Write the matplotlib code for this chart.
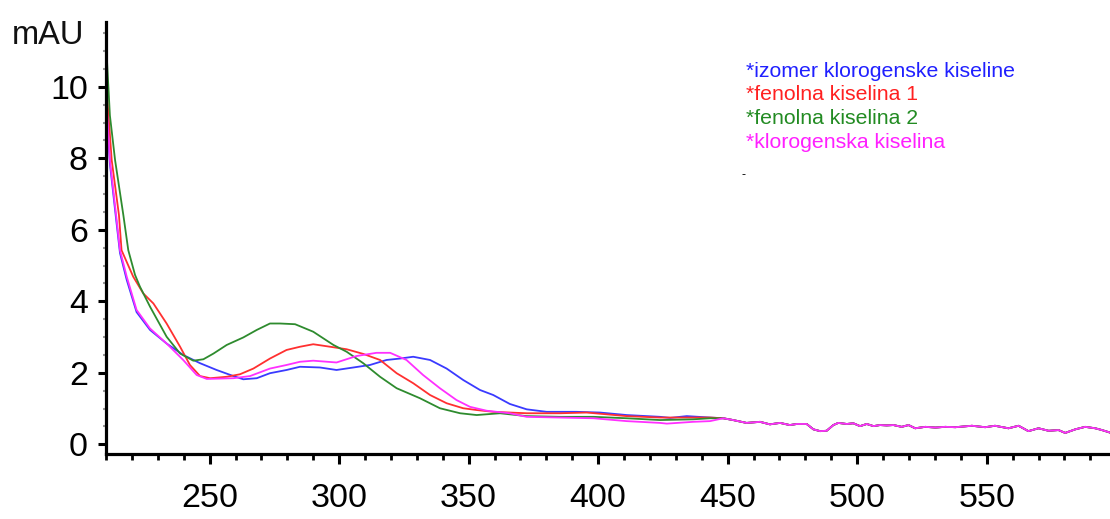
import matplotlib
matplotlib.use("Agg")
import matplotlib.pyplot as plt
from matplotlib.ticker import MultipleLocator
import numpy as np

plt.rcParams['font.family'] = ['Liberation Sans', 'DejaVu Sans']

# ---- data ----
labels = ["*izomer klorogenske kiseline", "*fenolna kiselina 1",
          "*fenolna kiselina 2", "*klorogenska kiselina"]

blue_x = [210, 211.5, 213.9, 215.4, 218, 221.8, 227, 233.4, 239.8, 246.3, 252.7, 259.2,
          263, 268.2, 273.3, 279.7, 284.9, 292.6, 299, 305.5, 311.9, 318.3, 323.5, 328.6,
          335.1, 341.5, 347.9, 354.4, 359.5, 365.9, 372.4, 380.1, 391.7, 400.7, 411,
          423.9, 427.8, 434.2, 443.2]
blue_y = [9.7, 7.85, 6.3, 5.35, 4.6, 3.7, 3.2, 2.82, 2.50, 2.27, 2.08, 1.91,
          1.82, 1.85, 1.99, 2.08, 2.17, 2.15, 2.08, 2.15, 2.22, 2.36, 2.40, 2.45,
          2.36, 2.12, 1.80, 1.52, 1.38, 1.13, 0.98, 0.91, 0.91, 0.89, 0.82,
          0.77, 0.74, 0.79, 0.75]

red_x = [210, 212.2, 215, 216, 220.5, 224.4, 228.3, 233.4, 238.6, 242.4, 246.3, 250.2,
         256.6, 261.7, 266.9, 273.3, 279.7, 284.9, 290, 296.5, 302.9, 309.3, 315.8,
         322.2, 328.6, 335.1, 341.5, 347.9, 353.1, 359.5, 372.4, 385.3, 395.6, 411,
         423.9, 443.2]
red_y = [10.2, 7.95, 6.41, 5.43, 4.69, 4.22, 3.94, 3.38, 2.73, 2.22, 1.91, 1.85,
         1.89, 1.96, 2.12, 2.40, 2.64, 2.73, 2.80, 2.73, 2.66, 2.53, 2.36,
         1.99, 1.71, 1.38, 1.15, 1.01, 0.96, 0.91, 0.87, 0.87, 0.89, 0.79,
         0.75, 0.75]

green_x = [210, 211.5, 213.5, 216.7, 218.6, 221.2, 223.1, 227, 233.4, 238.6, 243.7,
           247.6, 251.5, 256.6, 263, 268.2, 273.3, 277.2, 283, 290, 297.8, 302.9,
           309.3, 315.8, 322.2, 331.2, 338.9, 346.7, 353.1, 362.1, 372.4, 385.3,
           398.2, 411, 423.9, 436.6, 443.2]
green_y = [11.25, 9.2, 7.95, 6.41, 5.43, 4.74, 4.41, 3.85, 3.01, 2.54, 2.34,
           2.38, 2.54, 2.78, 2.99, 3.20, 3.38, 3.38, 3.36, 3.15, 2.78, 2.59,
           2.27, 1.89, 1.57, 1.29, 1.01, 0.87, 0.82, 0.87, 0.79, 0.77,
           0.77, 0.73, 0.68, 0.70, 0.73]

magenta_x = [210, 211.5, 213.9, 215.4, 218, 221.8, 227, 233.4, 239.8, 245, 248.9,
             259.2, 265.6, 273.3, 279.7, 284.9, 290, 299, 306.7, 314.4, 319.7, 326,
             332.4, 338.9, 345.3, 350.5, 357, 365.9, 372.4, 385.3, 398.2, 411,
             423.9, 426.5, 436.6, 443.2]
magenta_y = [9.77, 7.95, 6.41, 5.43, 4.69, 3.76, 3.24, 2.82, 2.36, 1.94, 1.83,
             1.85, 1.91, 2.12, 2.22, 2.31, 2.34, 2.29, 2.47, 2.56, 2.56, 2.36,
             1.94, 1.57, 1.24, 1.05, 0.94, 0.87, 0.77, 0.75, 0.73, 0.65,
             0.60, 0.58, 0.63, 0.65]

# common noisy tail where all four spectra coincide
tail_x = [448.3, 452.1, 457.3, 462.5, 466.3, 470.2, 474, 476.7, 480.5, 483.1, 485.7,
          488.2, 490.8, 492.7, 496, 498.5, 501.1, 503.7, 506.3, 508.8, 511.4, 514,
          517.2, 519.8, 522.4, 526.3, 530.2, 534, 537.9, 544.3, 549.4, 553.2, 558.4,
          562.3, 566.1, 570, 573.9, 577.7, 580.3, 584.2, 588, 591.9, 594.5, 597.6]
tail_y = [0.73, 0.68, 0.60, 0.63, 0.56, 0.60, 0.54, 0.57, 0.57, 0.42, 0.37,
          0.38, 0.54, 0.60, 0.57, 0.59, 0.51, 0.57, 0.51, 0.54, 0.53, 0.54,
          0.49, 0.54, 0.45, 0.49, 0.47, 0.49, 0.48, 0.52, 0.48, 0.52, 0.45,
          0.52, 0.37, 0.45, 0.38, 0.40, 0.32, 0.42, 0.49, 0.45, 0.40, 0.33]

x_ticks = [250, 300, 350, 400, 450, 500, 550]
y_ticks = [0, 2, 4, 6, 8, 10]

line_colors = ["#3a3aff", "#ff3030", "#2e8b2e", "#ff30ff"]
text_colors = ["#2020ff", "#ff2020", "#228b22", "#ff20ff"]

series = [(blue_x, blue_y), (red_x, red_y), (green_x, green_y), (magenta_x, magenta_y)]

# ---- figure ----
fig = plt.figure(figsize=(11.10, 5.19), dpi=100)
ax = fig.add_axes([0.0955, 0.1252, 0.9045, 0.8330])

for (xs, ys), c in zip(series, line_colors):
    ax.plot(list(xs) + tail_x, list(ys) + tail_y, color=c, lw=1.3,
            solid_joinstyle='round', antialiased=True)

ax.set_xlim(210, 597.6)
ax.set_ylim(-0.27, 11.82)

for s in ['top', 'right']:
    ax.spines[s].set_visible(False)
for s in ['left', 'bottom']:
    ax.spines[s].set_linewidth(2.3)
    ax.spines[s].set_color('black')

ax.set_xticks(x_ticks)
ax.set_xticklabels([str(v) for v in x_ticks])
ax.set_yticks(y_ticks)
ax.set_yticklabels([str(v) for v in y_ticks])
ax.xaxis.set_minor_locator(MultipleLocator(10))
ax.yaxis.set_minor_locator(MultipleLocator(0.5))

ax.tick_params(axis='x', which='major', direction='out', length=7, width=2.2,
               pad=14, labelsize=24.5, colors='black')
ax.tick_params(axis='x', which='minor', direction='out', length=4, width=2.0,
               color='black')
ax.tick_params(axis='y', which='major', direction='out', length=6, width=2.2,
               pad=7, labelsize=24.5, colors='black')
ax.tick_params(axis='y', which='minor', direction='out', length=2.5, width=1.5,
               color='#999999')

fig.text(12 / 1110, 1 - 35 / 519, "mAU", fontsize=23.5, ha='left', va='center',
         color='#111111')

legend_y = [72, 95, 118.5, 142]
for lab, c, yy in zip(labels, text_colors, legend_y):
    fig.text(746 / 1110, 1 - yy / 519, lab, fontsize=15.3, color=c,
             ha='left', va='center')

fig.text(741 / 1110, 1 - 175 / 519, "-", fontsize=9, color='black',
         ha='left', va='center')

fig.savefig("out.png", dpi=100)
